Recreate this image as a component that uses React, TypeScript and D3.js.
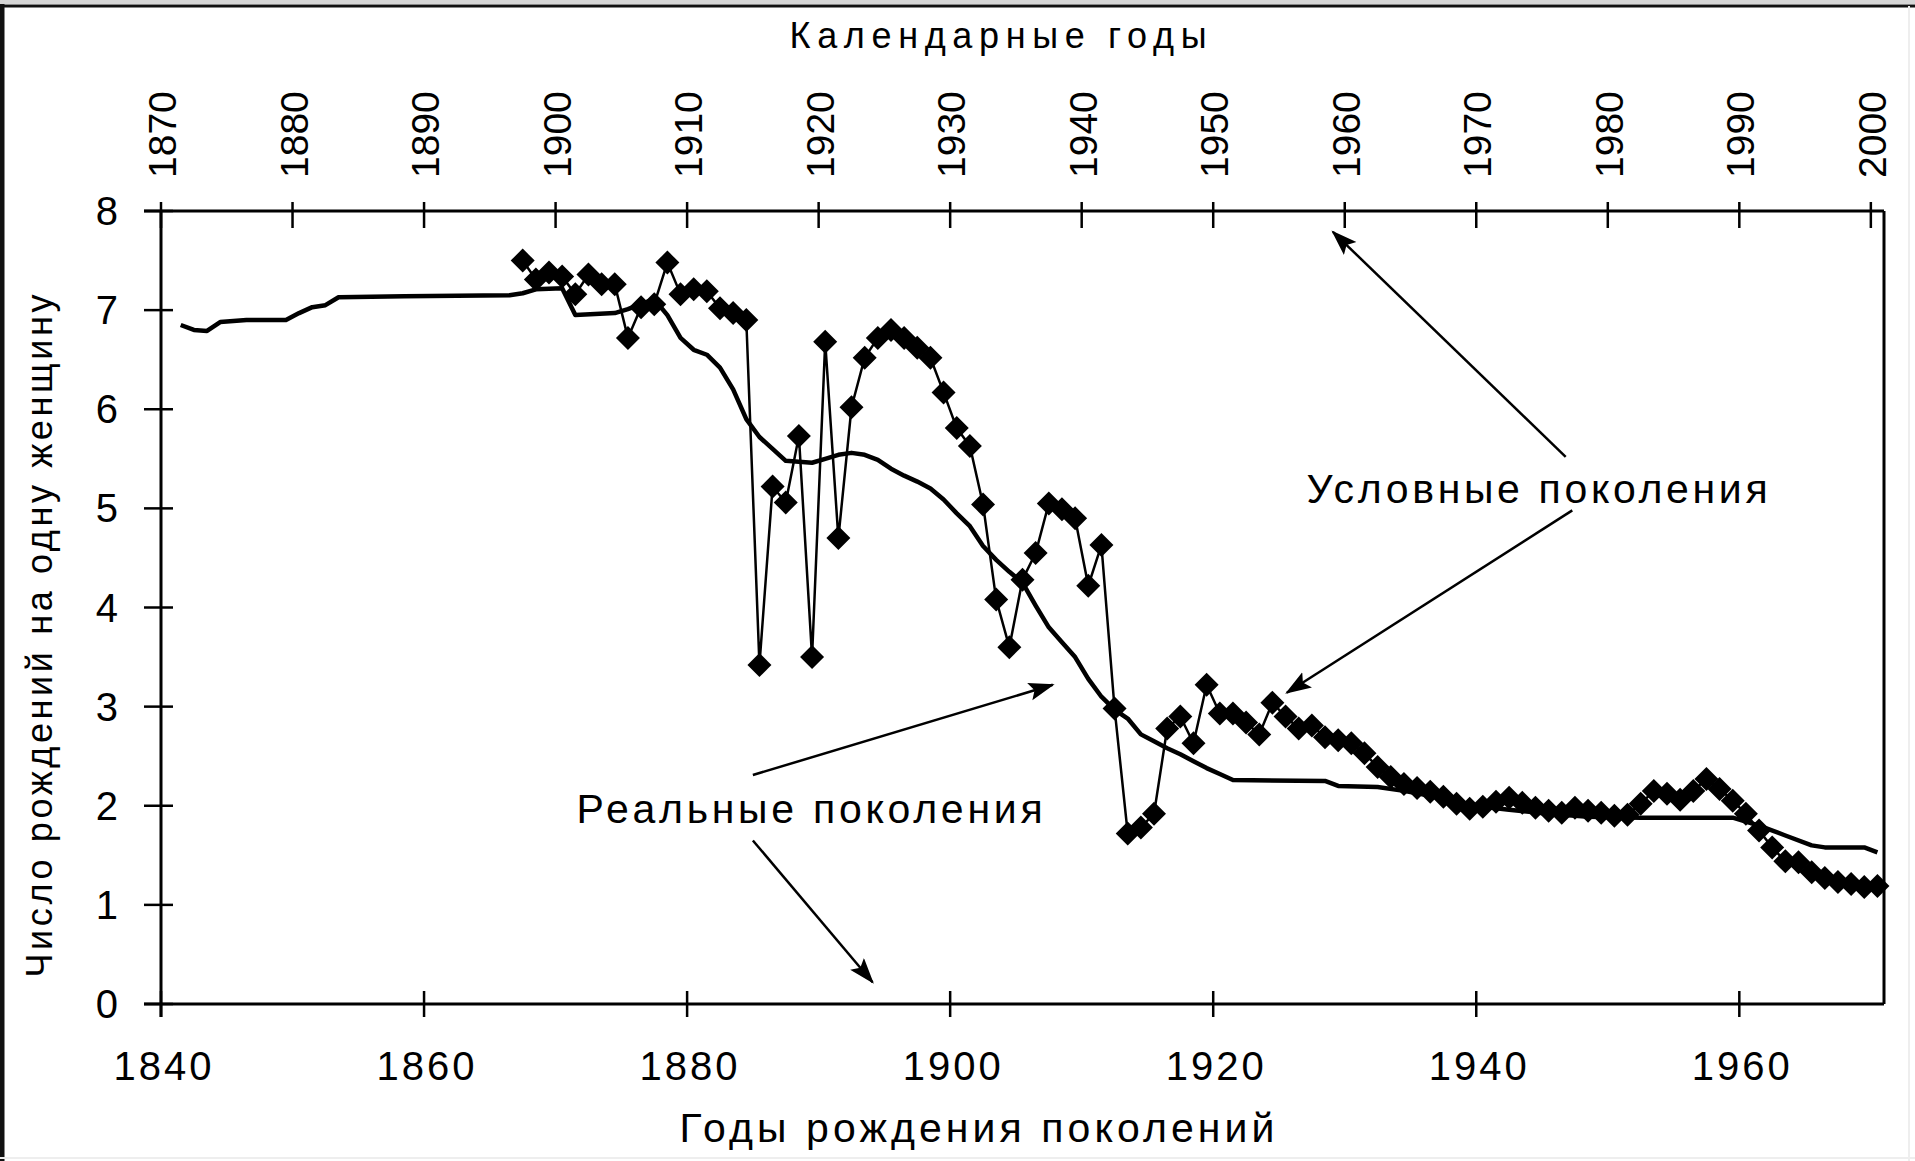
import * as d3 from 'd3';
import React from 'react';

// когортный СКР (реальные поколения), по году рождения
const cohortYears = [
  1841, 1842, 1843, 1844, 1846, 1849, 1850, 1851, 1852, 1853, 1858, 1866, 1867, 1868, 1870,
  1871, 1874, 1875, 1876, 1877, 1878, 1879, 1880, 1881, 1882, 1883, 1884, 1885, 1886, 1887,
  1889, 1890, 1891, 1892, 1893, 1894, 1895, 1896, 1897, 1898, 1899, 1900, 1901, 1902, 1903,
  1904, 1905, 1906, 1907, 1908, 1909, 1910, 1911, 1912, 1913, 1914, 1915, 1916, 1917, 1918,
  1919, 1920, 1921, 1928, 1929, 1932, 1934, 1936, 1938, 1940, 1942, 1945, 1948, 1952, 1959,
  1960, 1961, 1963, 1965, 1966, 1969, 1970,
];
const cohortValues = [
  6.85, 6.8, 6.79, 6.88, 6.9, 6.9, 6.97, 7.03, 7.05, 7.13, 7.14, 7.15, 7.17, 7.21, 7.22,
  6.95, 6.97, 7.01, 7.06, 7.11, 6.95, 6.72, 6.6, 6.55, 6.42, 6.2, 5.9, 5.72, 5.6, 5.48,
  5.46, 5.5, 5.54, 5.56, 5.54, 5.49, 5.4, 5.33, 5.27, 5.2, 5.09, 4.95, 4.82, 4.62, 4.48,
  4.36, 4.25, 4.02, 3.8, 3.65, 3.5, 3.28, 3.1, 2.97, 2.88, 2.72, 2.65, 2.58, 2.52, 2.45,
  2.38, 2.32, 2.26, 2.25, 2.2, 2.19, 2.15, 2.1, 2.04, 1.99, 1.96, 1.92, 1.89, 1.88, 1.88,
  1.84, 1.8, 1.7, 1.6, 1.58, 1.58, 1.53,
];

// условные поколения, календарные годы 1897–2000
const periodStart = 1897;
const periodValues = [
  7.5, 7.31, 7.38, 7.34, 7.16, 7.36, 7.26, 7.26, 6.72, 7.03,
  7.06, 7.48, 7.16, 7.21, 7.19, 7.02, 6.97, 6.9, 3.42, 5.22,
  5.06, 5.73, 3.5, 6.68, 4.7, 6.02, 6.52, 6.72, 6.8, 6.72,
  6.62, 6.52, 6.17, 5.81, 5.63, 5.04, 4.08, 3.6, 4.28, 4.55,
  5.05, 4.99, 4.9, 4.22, 4.63, 2.98, 1.72, 1.78, 1.92, 2.78,
  2.9, 2.63, 3.22, 2.93, 2.93, 2.84, 2.72, 3.04, 2.9, 2.78,
  2.81, 2.69, 2.66, 2.63, 2.53, 2.39, 2.29, 2.22, 2.18, 2.14,
  2.09, 2.02, 1.97, 1.99, 2.04, 2.08, 2.03, 1.98, 1.95, 1.93,
  1.98, 1.95, 1.93, 1.9, 1.91, 2.02, 2.15, 2.12, 2.06, 2.15,
  2.27, 2.17, 2.05, 1.92, 1.75, 1.58, 1.44, 1.43, 1.33, 1.27,
  1.23, 1.21, 1.18, 1.19,
];

const bottomTicks = [1840, 1860, 1880, 1900, 1920, 1940, 1960];
const topTicks = [1870, 1880, 1890, 1900, 1910, 1920, 1930, 1940, 1950, 1960, 1970, 1980, 1990, 2000];
const yTicks = [0, 1, 2, 3, 4, 5, 6, 7, 8];

// стрелки в координатах (год рождения, значение)
const arrows = [
  { from: [1946.8, 5.52], to: [1929.1, 7.79] },
  { from: [1947.3, 4.98], to: [1925.6, 3.14] },
  { from: [1885.0, 2.31], to: [1907.8, 3.22] },
  { from: [1885.0, 1.65], to: [1894.1, 0.22] },
];
const notes = [
  { text: 'Условные поколения', at: [1927.1, 5.05], len: 461 },
  { text: 'Реальные поколения', at: [1871.6, 1.83], len: 466 },
];

const W = 1915;
const H = 1161;
const font = '"Liberation Sans", Arial, sans-serif';

export default function App() {
  const left = 161;
  const right = 1884;
  const top = 211;
  const bottom = 1004;

  const x = d3.scaleLinear().domain([1840, 1971]).range([left, right]);
  const xTop = d3.scaleLinear().domain([1870, 2001]).range([left, right]);
  const y = d3.scaleLinear().domain([0, 8]).range([bottom, top]);

  const cohort = cohortYears.map((yr, i) => [x(yr + 0.5), y(cohortValues[i])] as [number, number]);
  const period = periodValues.map((v, i) => [xTop(periodStart + i + 0.5), y(v)] as [number, number]);
  const line = d3.line();

  const r = 12;
  const diamond = `M0,${-r}L${r},0L0,${r}L${-r},0Z`;

  return (
    <div style={{ position: 'absolute', left: 0, top: 0 }}>
      <svg width={W} height={H} style={{ display: 'block', fontFamily: font }}>
        <defs>
          <marker id="head" markerUnits="userSpaceOnUse" markerWidth="28" markerHeight="20"
            refX="24" refY="9" orient="auto">
            <path d="M0,0L26,9L0,18L5,9Z" fill="#000" />
          </marker>
        </defs>
        <rect width={W} height={H} fill="#fff" />
        {/* рамка окна */}
        <rect x={0} y={0} width={W} height={4} fill="#d6d6d6" />
        <line x1={0} x2={W} y1={6} y2={6} stroke="#111" strokeWidth={3} />
        <line x1={2} x2={2} y1={4} y2={H} stroke="#111" strokeWidth={5} />
        <line x1={W - 6} x2={W - 6} y1={6} y2={H} stroke="#eee" strokeWidth={2} />
        <line x1={0} x2={W} y1={H - 3} y2={H - 3} stroke="#eee" strokeWidth={2} />

        {/* оси */}
        <g stroke="#000" strokeWidth={3} fill="none">
          <line x1={left - 17} x2={right} y1={bottom} y2={bottom} />
          <line x1={left - 17} x2={right} y1={top} y2={top} />
          <line x1={left} x2={left} y1={top} y2={bottom + 13} />
          <line x1={right} x2={right} y1={top} y2={bottom} />
        </g>
        <g stroke="#000" strokeWidth={2.5}>
          {yTicks.map(t => (
            <line key={t} x1={left - 17} x2={left + 12} y1={y(t)} y2={y(t)} />
          ))}
          {bottomTicks.map(t => (
            <line key={t} x1={x(t)} x2={x(t)} y1={bottom - 13} y2={bottom + 13} />
          ))}
          {topTicks.map(t => (
            <line key={t} x1={xTop(t)} x2={xTop(t)} y1={top - 9} y2={top + 17} />
          ))}
        </g>

        <g fontSize={40} fill="#000">
          {yTicks.map(t => (
            <text key={t} x={118} y={y(t)} textAnchor="end" dominantBaseline="central">{t}</text>
          ))}
          {bottomTicks.map(t => (
            <text key={t} x={x(t) + 3} y={1080} textAnchor="middle" letterSpacing={3}>{t}</text>
          ))}
          {topTicks.map(t => (
            <text key={t} transform={`translate(${xTop(t) + 15},178) rotate(-90)`} fontSize={39}>{t}</text>
          ))}
        </g>

        {/* подписи осей */}
        <text x={998} y={48} textAnchor="middle" fontSize={36} textLength={417} lengthAdjust="spacing">
          Календарные  годы
        </text>
        <text x={977} y={1142} textAnchor="middle" fontSize={41} textLength={595} lengthAdjust="spacing">
          Годы рождения поколений
        </text>
        <text transform="translate(52,636) rotate(-90)" textAnchor="middle" fontSize={36}
          textLength={683} lengthAdjust="spacing">
          Число рождений на одну женщину
        </text>

        {/* реальные поколения */}
        <path d={line(cohort) ?? ''} fill="none" stroke="#000" strokeWidth={4.5} strokeLinejoin="round" />

        {/* условные поколения */}
        <path d={line(period) ?? ''} fill="none" stroke="#000" strokeWidth={2.5} />
        <g fill="#000">
          {period.map(([px, py], i) => (
            <path key={i} d={diamond} transform={`translate(${px},${py})`} />
          ))}
        </g>

        {/* аннотации */}
        <g stroke="#000" strokeWidth={2.5}>
          {arrows.map((a, i) => (
            <line key={i} x1={x(a.from[0])} y1={y(a.from[1])} x2={x(a.to[0])} y2={y(a.to[1])}
              markerEnd="url(#head)" />
          ))}
        </g>
        {notes.map(n => (
          <text key={n.text} x={x(n.at[0])} y={y(n.at[1])} fontSize={41} textLength={n.len}
            lengthAdjust="spacing">
            {n.text}
          </text>
        ))}
      </svg>
    </div>
  );
}
